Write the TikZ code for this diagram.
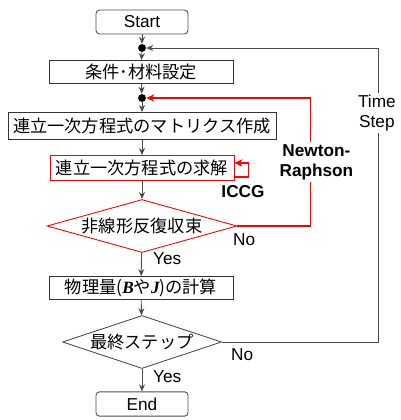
\documentclass[tikz,border=0pt]{standalone}
\usepackage{fontspec}
\setmainfont{Liberation Sans}
\newfontfamily\jpfont{Noto Sans CJK JP}
\newfontfamily\tmsfont{Liberation Serif}
\usetikzlibrary{positioning, shapes.geometric, arrows.meta, calc}
\newcommand\fsz{\fontsize{9.8pt}{11.5pt}\selectfont}

\begin{document}
\begin{tikzpicture}[x=0.02cm, y=-0.02cm,
  box/.style={rectangle, draw=black!80, line width=0.5pt, minimum height=0.46cm, font=\fsz\jpfont, inner sep=1pt},
  term/.style={rectangle, draw=black!70, line width=0.5pt, rounded corners=2pt, minimum width=1.84cm, minimum height=0.43cm, font=\fsz},
  decision/.style={diamond, draw=black!70, line width=0.5pt, inner sep=0pt, font=\fsz\jpfont},
  dot/.style={circle, fill=black, inner sep=0pt, minimum size=4.5pt},
  arr/.style={-{Stealth[length=1.4mm, width=1.2mm]}, black!70, line width=0.5pt},
  redarr/.style={-{Stealth[length=1.6mm, width=1.5mm]}, red, thick},
  note/.style={font=\fsz, text=black, inner sep=1pt}
]
  \useasboundingbox (0,0) rectangle (400,420);

  \node[term] (start) at (142,22) {Start};
  \node[dot] (dot1) at (142,48) {};
  \node[box, minimum width=3.68cm] (cond) at (141,72) {条件･材料設定};
  \node[dot] (dot2) at (142,98) {};
  \node[box, minimum width=5.36cm, minimum height=0.54cm] (matrix) at (142,126) {連立一次方程式のマトリクス作成};
  \node[box, draw=red, minimum width=3.68cm, minimum height=0.5cm] (solve) at (142,168) {連立一次方程式の求解};
  \node[decision, draw=red, aspect=3.6, minimum width=3.8cm, minimum height=1.06cm] (conv) at (142,226) {非線形反復収束};
  \node[box, minimum width=3.68cm] (phys) at (141,288) {物理量({\tmsfont\bfseries\itshape B}や{\tmsfont\bfseries\itshape J})の計算};
  \node[decision, aspect=3, minimum width=3.18cm, minimum height=1.06cm] (last) at (142,342) {最終ステップ};
  \node[term] (end) at (142,404) {End};

  \draw[arr] (start) -- (dot1);
  \draw[arr] (dot1) -- (cond);
  \draw[arr] (cond) -- (dot2);
  \draw[arr] (dot2) -- (matrix);
  \draw[arr] (matrix) -- (solve);
  \draw[arr] (solve) -- (conv);
  \draw[arr] (conv) -- (phys);
  \draw[arr] (phys) -- (last);
  \draw[arr] (last) -- (end);

  % ICCG loop
  \draw[redarr] ([yshift=-0.18cm]solve.east) -- ++(14,0) |- ([yshift=0.1cm]solve.east);
  \node[note, font=\fsz\bfseries] at (243,192) {ICCG};

  % Newton-Raphson loop
  \draw[redarr] (conv.east) -- ++(73,0) |- node[note, pos=0.25, fill=white, align=center, xshift=0.12cm, font=\fsz\bfseries] {Newton-\\Raphson} (dot2);

  % time step loop
  \draw[arr] (last.east) -- ++(157,0) |- node[note, pos=0.39, fill=white, align=center, xshift=-0.04cm] {Time\\Step} (dot1);

  % branch labels
  \node[note, anchor=west] at (231,240) {No};
  \node[note, anchor=west] at (151,259) {Yes};
  \node[note, anchor=west] at (229,355) {No};
  \node[note, anchor=west] at (151,377) {Yes};
\end{tikzpicture}
\end{document}
